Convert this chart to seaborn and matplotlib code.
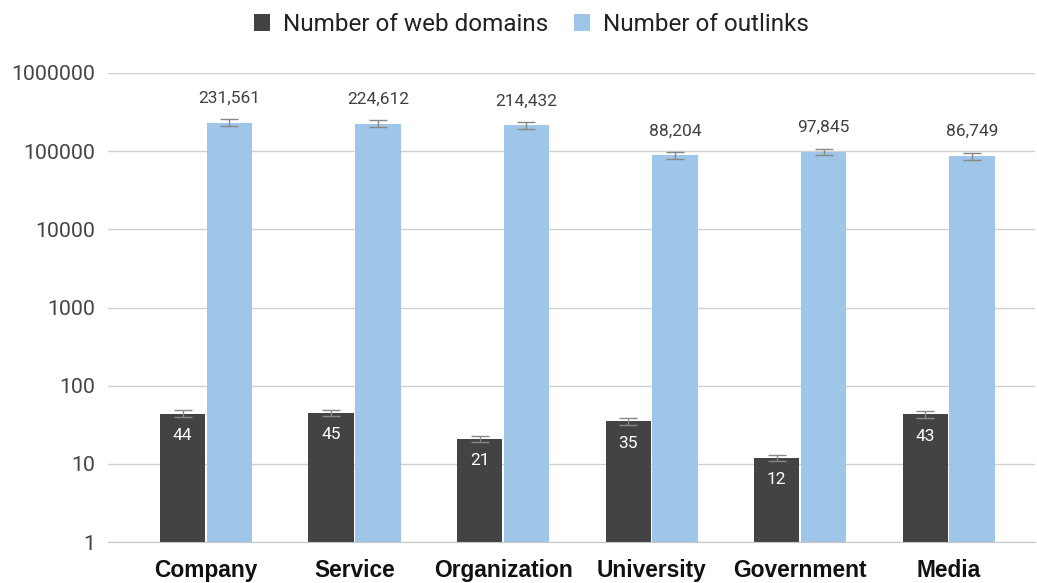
import pandas as pd
import matplotlib.pyplot as plt
import seaborn as sns

# data
categories = ["Company", "Service", "Organization", "University", "Government", "Media"]
web_domains = [44, 45, 21, 35, 12, 43]
outlinks = [231561, 224612, 214432, 88204, 97845, 86749]
series_names = ["Number of web domains", "Number of outlinks"]
err_pct = 0.10

df = pd.DataFrame({
    "Category": categories * 2,
    "Series": [series_names[0]] * len(categories) + [series_names[1]] * len(categories),
    "Value": web_domains + outlinks,
})

sns.set_style("white")
plt.rcParams["font.family"] = ["Roboto", "DejaVu Sans"]

fig, ax = plt.subplots(figsize=(10.37, 5.83), dpi=100)
fig.subplots_adjust(left=0.104, right=0.998, top=0.875, bottom=0.07)

palette = {series_names[0]: "#434343", series_names[1]: "#9fc5e8"}
sns.barplot(data=df, x="Category", y="Value", hue="Series", palette=palette,
            errorbar=None, width=0.63, gap=0.03, saturation=1, linewidth=0, ax=ax)
ax.set_yscale("log")
ax.set_ylim(1, 1000000)
ax.set_yticks([1, 10, 100, 1000, 10000, 100000, 1000000])
ax.set_yticklabels(["1", "10", "100", "1000", "10000", "100000", "1000000"])

# error bars and labels
bar_groups = list(ax.containers)
for i, cont in enumerate(bar_groups):
    vals = web_domains if i == 0 else outlinks
    xs = [p.get_x() + p.get_width() / 2 for p in cont.patches]
    ax.errorbar(xs, vals, yerr=[v * err_pct for v in vals], fmt="none",
                ecolor="#888888", elinewidth=1, capsize=6.5, capthick=1, zorder=3)
    if i == 0:
        ax.bar_label(cont, labels=[str(v) for v in vals], padding=-21,
                     color="white", fontsize=12.5)
    else:
        ax.bar_label(cont, labels=[f"{v:,}" for v in vals], padding=12,
                     color="#404040", fontsize=12.5)

ax.grid(axis="y", color="#d0d0d0", linewidth=1)
ax.set_axisbelow(True)
for s in ["top", "right", "left"]:
    ax.spines[s].set_visible(False)
ax.spines["bottom"].set_color("#c8c8c8")
ax.tick_params(axis="y", length=0, labelsize=15.3, labelcolor="#444444", pad=9)
ax.tick_params(axis="x", length=0, pad=12)
for lab in ax.get_xticklabels():
    lab.set_fontfamily("Liberation Sans")
    lab.set_fontweight("bold")
    lab.set_fontsize(16.4)
    lab.set_color("#111111")
ax.set_xlabel("")
ax.set_ylabel("")
ax.set_xlim(-0.66, 5.58)

ax.legend(loc="upper center", bbox_to_anchor=(0.457, 1.174), ncol=2, frameon=False,
          fontsize=17.5, handlelength=0.65, handleheight=0.65, handletextpad=0.55,
          columnspacing=1.05, labelcolor="#222222")

plt.savefig("out.png", dpi=100)
